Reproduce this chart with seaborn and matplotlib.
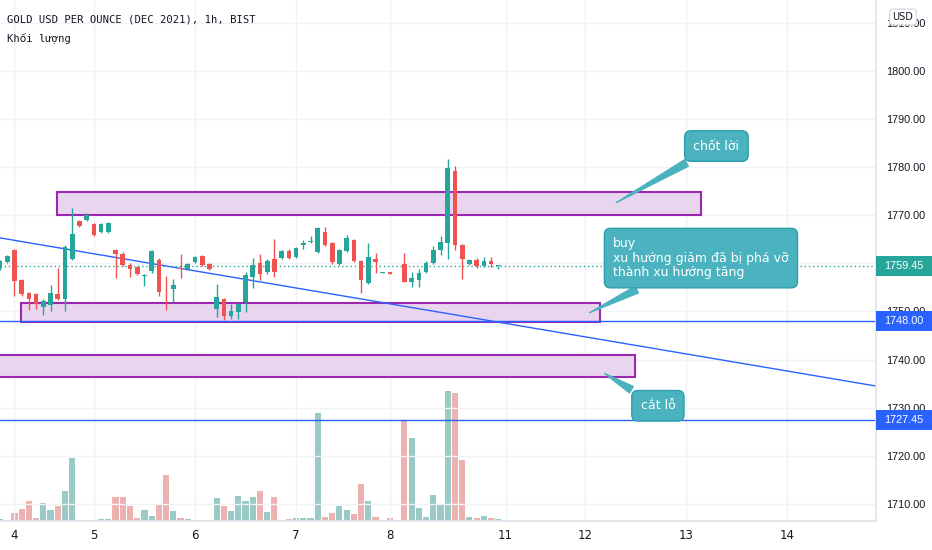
import numpy as np
import pandas as pd
import matplotlib
matplotlib.use('Agg')
import matplotlib.pyplot as plt
import seaborn as sns
from matplotlib import font_manager
from matplotlib.patches import Rectangle
from matplotlib.transforms import blended_transform_factory

# hourly candles
opens = [1759.0, 1760.3, 1762.8, 1756.5, 1753.8, 1753.6, 1750.9, 1751.4, 1753.6, 1752.6,
         1760.9, 1768.8, 1769.0, 1768.2, 1766.5, 1766.5, 1762.8, 1762.0, 1759.7, 1759.2,
         1757.4, 1758.4, 1760.7, 1755.4, 1754.7, 1759.1, 1758.8, 1760.3, 1761.5, 1759.9,
         1750.5, 1752.6, 1749.1, 1749.9, 1752.0, 1757.2, 1760.1, 1758.2, 1760.9, 1761.1,
         1762.6, 1761.3, 1763.8, 1764.5, 1762.4, 1766.5, 1764.2, 1759.9, 1762.6, 1764.9,
         1760.5, 1755.9, 1760.9, 1758.1, 1758.2, 1757.9, 1759.9, 1756.1, 1756.5, 1758.2,
         1760.1, 1762.8, 1764.2, 1779.2, 1763.8, 1759.9, 1760.7, 1759.5, 1760.5, 1759.4]
highs = [1760.8, 1761.7, 1762.9, 1756.7, 1754.0, 1753.8, 1752.6, 1755.5, 1759.0, 1763.8,
         1771.5, 1769.0, 1770.4, 1768.4, 1768.4, 1768.6, 1763.0, 1762.4, 1760.1, 1759.4,
         1757.8, 1762.8, 1761.1, 1757.4, 1756.8, 1762.0, 1760.1, 1761.5, 1761.7, 1760.1,
         1755.7, 1752.8, 1751.6, 1751.8, 1758.2, 1761.1, 1762.0, 1760.9, 1765.1, 1762.8,
         1763.0, 1763.4, 1764.9, 1765.7, 1767.6, 1767.6, 1764.4, 1763.0, 1765.9, 1765.1,
         1760.7, 1764.2, 1762.2, 1758.3, 1758.3, 1758.1, 1762.2, 1758.2, 1758.8, 1760.5,
         1763.6, 1765.7, 1781.7, 1780.2, 1764.0, 1760.9, 1761.1, 1761.3, 1761.3, 1759.5]
lows = [1758.6, 1760.0, 1753.2, 1753.2, 1750.3, 1750.5, 1749.3, 1750.1, 1752.4, 1750.1,
        1760.7, 1767.6, 1768.8, 1765.7, 1766.3, 1766.3, 1757.0, 1759.5, 1757.2, 1757.6,
        1755.3, 1758.0, 1753.2, 1750.3, 1752.0, 1757.0, 1758.6, 1760.1, 1759.5, 1758.6,
        1748.9, 1748.2, 1748.4, 1748.4, 1749.9, 1754.9, 1756.5, 1757.8, 1757.2, 1760.9,
        1760.9, 1761.1, 1763.0, 1764.3, 1762.2, 1763.6, 1759.9, 1759.7, 1762.4, 1760.3,
        1753.8, 1755.7, 1758.0, 1758.1, 1757.7, 1757.9, 1756.1, 1755.1, 1755.1, 1758.0,
        1759.9, 1761.7, 1760.9, 1762.8, 1756.8, 1759.7, 1759.0, 1759.3, 1759.3, 1758.8]
closes = [1760.5, 1761.5, 1756.3, 1753.6, 1752.6, 1751.6, 1752.2, 1753.8, 1752.6, 1763.4,
          1766.1, 1767.8, 1770.1, 1765.9, 1768.2, 1768.4, 1762.0, 1759.7, 1758.8, 1757.8,
          1757.6, 1762.6, 1754.0, 1755.2, 1755.5, 1758.9, 1759.9, 1761.3, 1759.7, 1758.8,
          1753.0, 1749.1, 1750.1, 1751.6, 1757.6, 1759.7, 1757.8, 1760.5, 1758.2, 1762.6,
          1761.1, 1763.2, 1764.2, 1764.7, 1767.4, 1763.8, 1760.3, 1762.8, 1765.3, 1760.5,
          1756.6, 1761.3, 1760.3, 1758.3, 1757.8, 1758.0, 1756.1, 1757.0, 1758.0, 1760.1,
          1762.8, 1764.4, 1779.8, 1763.8, 1760.9, 1760.7, 1759.5, 1760.5, 1759.9, 1759.45]
volumes = [20, 13, 77, 120, 200, 33, 183, 110, 153, 297,
           633, 13, 13, 13, 23, 23, 240, 240, 153, 33,
           110, 53, 173, 457, 100, 33, 23, 13, 13, 13,
           230, 153, 97, 253, 197, 240, 297, 87, 240, 13,
           23, 33, 33, 33, 1080, 43, 77, 153, 110, 67,
           373, 197, 43, 13, 33, 13, 1003, 827, 130, 43,
           260, 173, 1300, 1277, 610, 43, 33, 53, 33, 23]

day_ticks = [2, 13, 27, 41, 54, 70, 81, 95, 109]
day_labels = ['4', '5', '6', '7', '8', '11', '12', '13', '14']
price_ticks = [1710, 1720, 1730, 1740, 1750, 1760, 1770, 1780, 1790, 1800, 1810]

# drawings: (x start, x end, low, high) in bars
zones = [(7.9, 97.1, 1770.1, 1774.8),
         (2.9, 83.1, 1747.8, 1751.8),
         (-1.0, 87.9, 1736.4, 1741.0)]
blue_levels = [1748.00, 1727.45]
last_price = 1759.45
trend_x = [0, 121.3]
trend_y = [1765.3, 1734.5]

UP, DOWN = '#26a69a', '#ef5350'
BLUE = '#2962ff'
CALLOUT = '#4ab3bf'

sns.set_theme(style='white')
plt.rcParams['font.family'] = ['DejaVu Sans']

installed = {f.name for f in font_manager.fontManager.ttflist}
if 'Liberation Sans Narrow' in installed:
    scale_font, scale_size = 'Liberation Sans Narrow', 9.5
else:
    scale_font, scale_size = 'Liberation Sans', 7.8

df = pd.DataFrame({'o': opens, 'h': highs, 'l': lows, 'c': closes, 'v': volumes})
df['idx'] = np.arange(len(df))
df['dir'] = np.where(df['c'] >= df['o'], 'up', 'down')

W, H = 932, 550
fig = plt.figure(figsize=(W / 100, H / 100), dpi=100)
rect = [0, 29 / H, 876 / W, 521 / H]
ax_v = fig.add_axes(rect)
ax = fig.add_axes(rect, sharex=ax_v)
ax.patch.set_visible(False)

# volume pane underneath
sns.barplot(data=df, x='idx', y='v', hue='dir', palette={'up': UP, 'down': DOWN},
            native_scale=True, dodge=False, width=0.85, alpha=0.5, linewidth=0,
            errorbar=None, legend=False, ax=ax_v)
ax_v.set_ylim(0, 5210)
ax_v.set_yticks([])
ax_v.set_xlabel('')
ax_v.set_ylabel('')
ax_v.tick_params(axis='x', labelbottom=False, length=0)
for s in ax_v.spines.values():
    s.set_visible(False)

# grid
for p in price_ticks:
    ax.axhline(p, color='#f0f2f5', lw=1, zorder=0)
for d in day_ticks:
    ax.axvline(d, color='#f0f2f5', lw=1, zorder=0)

# zones
for x0, x1, lo, hi in zones:
    ax.add_patch(Rectangle((x0, lo), x1 - x0, hi - lo, facecolor='#ead5ef',
                           edgecolor='#9c27b0', lw=1.5, zorder=1))

ax.plot(trend_x, trend_y, color=BLUE, lw=1, zorder=2)
for lv in blue_levels:
    ax.axhline(lv, color=BLUE, lw=1, zorder=2)
ax.axhline(last_price, color=UP, lw=1, ls=(0, (1, 2)), zorder=2)

# candles
cols = np.where(df['dir'] == 'up', UP, DOWN)
ax.vlines(df['idx'], df['l'], df['h'], colors=cols, lw=1, zorder=3)
body_lo = np.minimum(df['o'], df['c'])
body_h = np.maximum(np.abs(df['c'] - df['o']), 0.2)
ax.bar(df['idx'], body_h, bottom=body_lo, width=0.65, color=cols, lw=0, zorder=4)

ax.set_xlim(0, 121.3)
ax.set_ylim(1706.44, 1814.76)

ax.yaxis.tick_right()
ax.set_yticks(price_ticks)
ax.set_yticklabels([f'{p:.2f}' for p in price_ticks], family=scale_font)
ax.set_xticks(day_ticks)
ax.set_xticklabels(day_labels)
ax.tick_params(axis='y', length=0, pad=7, labelsize=scale_size, labelcolor='#131722')
ax.tick_params(axis='x', length=0, pad=6, labelsize=8.5, labelcolor='#131722')
for side in ['top', 'left']:
    ax.spines[side].set_visible(False)
ax.spines['right'].set_color('#e0e3eb')
ax.spines['bottom'].set_color('#e0e3eb')
ax.set_xlabel('')
ax.set_ylabel('')

# price tags on the scale
tr = blended_transform_factory(ax.transAxes, ax.transData)
for val, col in [(last_price, UP), (blue_levels[0], BLUE), (blue_levels[1], BLUE)]:
    ax.add_patch(Rectangle((1.0, val - 2.0), 56 / 876, 4.0, transform=tr,
                           facecolor=col, edgecolor='none', clip_on=False, zorder=10))
    ax.text(1.0 + 28 / 876, val, f'{val:.2f}', transform=tr, ha='center', va='center',
            color='white', fontsize=scale_size, family=scale_font, zorder=11, clip_on=False)

fig.text(903 / W, 1 - 17 / H, 'USD', ha='center', va='center', fontsize=7, color='#131722',
         bbox=dict(boxstyle='round,pad=0.3', fc='white', ec='#d1d4dc', lw=0.8))

# header
mono = ['DejaVu Sans Mono', 'DejaVu Sans']
fig.text(7 / W, 1 - 20 / H, 'GOLD USD PER OUNCE (DEC 2021), 1h, BIST', ha='left', va='center',
         fontsize=7.6, family=mono, color='#131722')
fig.text(7 / W, 1 - 38 / H, 'Khối lượng', ha='left', va='center',
         fontsize=7.6, family=mono, color='#131722')

# callouts
box = dict(boxstyle='round,pad=0.7,rounding_size=0.5', fc=CALLOUT, ec='#2a9fab', lw=1)
wedge = dict(arrowstyle='wedge,tail_width=0.6,shrink_factor=0.5', fc=CALLOUT, ec=CALLOUT)
ax.annotate('chốt lời', xy=(85.0, 1772.35), xytext=(99.2, 1784.4), ha='center', va='center',
            color='white', fontsize=9, bbox=box, arrowprops=wedge, zorder=12)
ax.annotate('buy\nxu hướng giảm đã bị phá vỡ\nthành xu hướng tăng', xy=(81.3, 1749.5),
            xytext=(84.9, 1761.1), ha='left', va='center', color='white', fontsize=9,
            linespacing=1.15, bbox=box, arrowprops=wedge, zorder=12)
ax.annotate('cắt lỗ', xy=(83.4, 1737.4), xytext=(91.1, 1730.4), ha='center', va='center',
            color='white', fontsize=9, bbox=box, arrowprops=wedge, zorder=12)

fig.savefig('out.png', dpi=100)
